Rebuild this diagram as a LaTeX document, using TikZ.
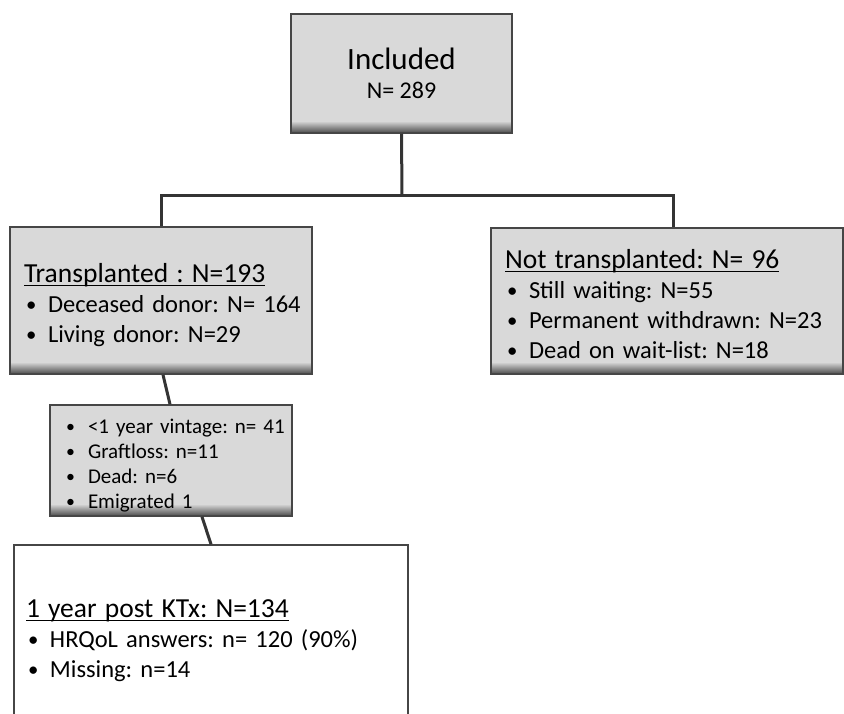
\documentclass[tikz,border=0pt]{standalone}
\usepackage{fontspec}
\setmainfont{Carlito}
\usetikzlibrary{calc}

\definecolor{boxgray}{RGB}{217,217,217}
\definecolor{edgegray}{RGB}{70,70,70}
\definecolor{linegray}{RGB}{52,52,52}

% underlined heading and bullet line
\newcommand\hd[1]{{\fontsize{27.5}{30}\selectfont\setbox0\hbox{#1}\rlap{\rule[-4pt]{\wd0}{1.4pt}}\box0}}
\newcommand\bul[1]{\mbox{\hspace*{2pt}\makebox[22pt][l]{\raisebox{1.2pt}{\scalebox{0.85}{\textbullet}}}#1}}

\tikzset{
  graybox/.style={draw=edgegray, line width=1.5, fill=boxgray, inner xsep=14, inner ysep=0, align=left,
    font=\frenchspacing\fontsize{24.5}{30}\selectfont,
    path picture={\foreach \k in {1,...,11}{
        \pgfmathsetmacro\c{5.5*(12-\k)}
        \fill[black!\c!boxgray] ([yshift=\k pt-1.2pt]path picture bounding box.south west)
          rectangle ([yshift=\k pt]path picture bounding box.south east);}}},
  whitebox/.style={graybox, fill=white, path picture={}},
  conn/.style={draw=linegray, line width=3}
}

\begin{document}
\begin{tikzpicture}[x=1pt, y=-1pt]
  \useasboundingbox (0,0) rectangle (844,713);
  \clip (0,0) rectangle (844,713);

  \node[graybox, align=center, minimum width=221, minimum height=119, inner xsep=0] (incl) at (401.5,73.5)
    {{\fontsize{31}{32}\selectfont Included}\\[-1pt]{\fontsize{24}{32}\selectfont N= 289}};

  \node[graybox, text width=274, minimum height=147] (trans) at (161,300.5)
    {\rule{0pt}{28pt}\hd{Transplanted : N=193}\\ \bul{Deceased donor: N= 164}\\ \bul{Living donor: N=29}};

  \node[graybox, text width=324, minimum height=146] (notr) at (667,301)
    {\rule{0pt}{25pt}\hd{Not transplanted: N= 96}\\ \bul{Still waiting: N=55}\\ \bul{Permanent withdrawn: N=23}\\ \bul{Dead on wait-list: N=18}};

  \node[graybox, text width=214, minimum height=111, font=\frenchspacing\fontsize{21}{25}\selectfont] (vint) at (171,460.5)
    {\rule{0pt}{24pt}\bul{<1 year vintage: n= 41}\\ \bul{Graftloss: n=11}\\ \bul{Dead: n=6}\\ \bul{Emigrated 1}};

  \node[whitebox, text width=370, minimum height=182, inner xsep=12] (post) at (211,636)
    {\rule{0pt}{27pt}\hd{1 year post KTx: N=134}\\ \bul{HRQoL answers: n= 120 (90\%)}\\ \bul{Missing: n=14}};

  % connectors
  \coordinate (bar) at (402,195);
  \draw[conn] (incl.south) -- (bar);
  \draw[conn] (trans.north) |- (bar) -| ([xshift=6]notr.north);
  \draw[conn] ([xshift=2]trans.south) -- ([xshift=-1]vint.north);
  \draw[conn] ([xshift=31]vint.south) -- (post.north);
\end{tikzpicture}
\end{document}
